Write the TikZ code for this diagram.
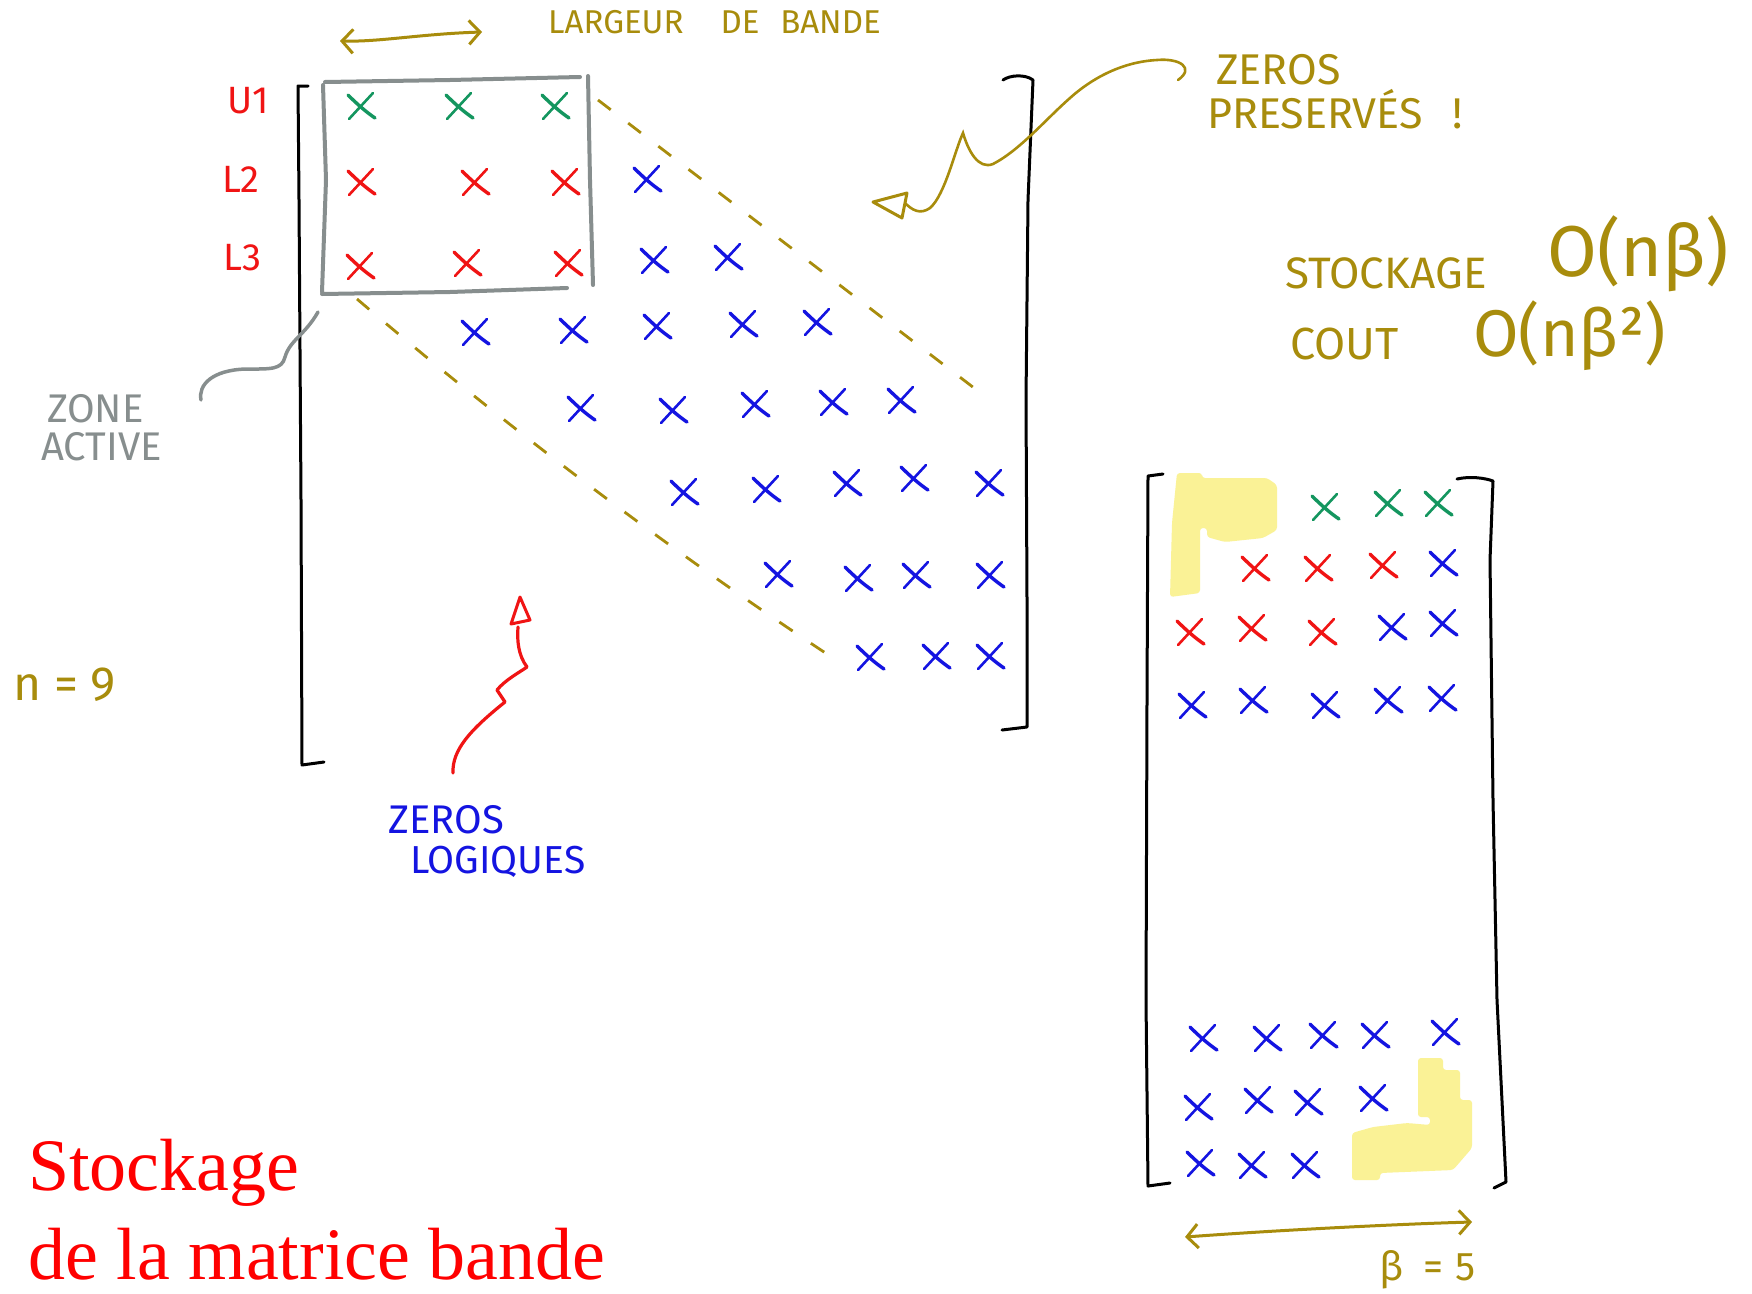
\documentclass[tikz,border=0pt]{standalone}
\usepackage{fontspec}
\setmainfont{Liberation Serif}
\newfontfamily\hand{Fira Sans}
\usetikzlibrary{arrows.meta}

\definecolor{ink}{RGB}{168,140,12}
\definecolor{xred}{RGB}{240,20,20}
\definecolor{xblue}{RGB}{20,20,225}
\definecolor{xgreen}{RGB}{20,150,95}
\definecolor{zgray}{RGB}{135,142,142}
\definecolor{hilite}{RGB}{250,242,150}

\begin{document}
\begin{tikzpicture}[x=1pt,y=-1pt,
  hw/.style={font={\hand\fontsize{#1}{#1}\selectfont}, inner sep=0pt, anchor=base west},
  brk/.style={draw=black, line width=3pt, line cap=round, line join=round},
  band/.style={draw=ink, line width=2.8pt, dash pattern=on 16pt off 22pt},
  dblarrow/.style={draw=ink, line width=3pt, line cap=round,
    {Straight Barb[length=11pt,width=24pt,line width=3pt]}-{Straight Barb[length=11pt,width=24pt,line width=3pt]}},
  xmark/.pic={
    \draw[line width=3.4pt,line cap=round] (-13,-11) .. controls (-5,-3) and (5,6) .. (14,12);
    \draw[line width=2.6pt,line cap=round] (-12,13) -- (12,-13);}
]
\fill[white] (0,0) rectangle (1752,1293);
\useasboundingbox (0,0) rectangle (1752,1293);

% ---------------- full band matrix (left) ----------------
\draw[brk] (308,86) -- (298,86) -- (299,200) -- (301,500) -- (302,765) -- (324,762);
\draw[brk] (1003,80) .. controls (1010,75) and (1025,74) .. (1033,80)
  -- (1028,200) -- (1026,400) -- (1027,600) -- (1027,727) -- (1002,730);

% active zone
\draw[zgray, line width=4pt, line cap=round]
  (325,82) -- (450,80) -- (580,77)
  (588,76) -- (590,180) -- (593,285)
  (567,288) -- (450,292) -- (322,294)
  (322,292) -- (326,180) -- (323,85);

% band limits
\draw[band] (598,100) -- (978,391);
\draw[band] (357,299) .. controls (513,432) and (670,550) .. (827,654);

% entries
\foreach \p in {(361,106),(459,106),(555,106)} \pic[xgreen] at \p {xmark};
\foreach \p in {(361,182),(475,182),(565,182),(360,266),(467,263),(568,263)} \pic[xred] at \p {xmark};
\foreach \p in {(647,179),(654,260),(728,257),(475,332),(573,330),(657,326),(743,324),(817,322),
  (581,408),(673,410),(755,404),(833,402),(901,400),(684,492),(766,489),(847,483),(914,478),(989,483),
  (778,574),(858,578),(916,575),(990,575),(870,657),(936,656),(990,656)} \pic[xblue] at \p {xmark};

% row labels
\node[hw=38, text=xred] (u1) at (227,113) {U1};
\node[hw=38, text=xred] (l2) at (222,192) {L2};
\node[hw=38, text=xred] (l3) at (223,270) {L3};

% bandwidth label
\coordinate (bwL) at (340,41);
\coordinate (bwR) at (482,32);
\draw[dblarrow] (bwL) .. controls (380,42) and (420,34) .. (bwR);
\node[hw=33, text=ink] (bw) at (548,33) {LARGEUR\hspace{37pt}DE\hspace{21pt}BANDE};

% preserved zeros
\node[hw=43, text=ink] (zp1) at (1216,84) {ZEROS};
\node[hw=43, text=ink] (zp2) at (1207,128) {PRESERVÉS\hspace{30pt}!};
\coordinate (zpS) at (1178,80);
\coordinate (zpE) at (905,203);
\draw[ink, line width=2.6pt, line cap=round]
  (zpS) .. controls (1195,68) and (1180,58) .. (1157,60)
  .. controls (1120,62) and (1090,80) .. (1070,98)
  .. controls (1045,120) and (1020,150) .. (993,164)
  .. controls (978,170) and (968,150) .. (963,133)
  .. controls (955,150) and (945,195) .. (930,208)
  .. controls (920,215) and (912,210) .. (zpE);
\draw[ink, line width=3pt, line join=round] (873,202) -- (907,193) -- (902,218) -- cycle;

% active zone label
\node[hw=40, text=zgray] (za1) at (47,422) {ZONE};
\node[hw=40, text=zgray] (za2) at (41,460) {ACTIVE};
\coordinate (zaS) at (201,400);
\coordinate (zaE) at (318,312);
\draw[zgray, line width=3.5pt, line cap=round]
  (zaS) .. controls (198,385) and (212,370) .. (246,369)
  .. controls (270,369) and (282,370) .. (285,357)
  .. controls (290,340) and (305,335) .. (zaE);

% logical zeros
\node[hw=40, text=xblue] (zl1) at (388,833) {ZEROS};
\node[hw=39, text=xblue] (zl2) at (410,873) {LOGIQUES};
\coordinate (zlS) at (453,773);
\coordinate (zlE) at (518,627);
\draw[xred, line width=3.2pt, line cap=round, line join=round]
  (zlS) .. controls (452,750) and (470,730) .. (505,702) -- (497,690)
  .. controls (505,680) and (520,672) .. (527,667)
  .. controls (518,655) and (517,640) .. (zlE);
\draw[xred, line width=3pt, line join=round] (511,624) -- (520,597) -- (530,620) -- cycle;

\node[hw=48, text=ink] (nn) at (13,700) {n = 9};

% complexity
\node[hw=44, text=ink] (st) at (1285,288) {STOCKAGE};
\node[hw=72, text=ink] (st2) at (1547,276) {O(nβ)};
\node[hw=45, text=ink] (co) at (1290,359) {COUT};
\node[hw=66, text=ink] (co2) at (1473,356) {O(nβ²)};

% ---------------- band storage (right) ----------------
\fill[hilite, rounded corners=3pt] (1177,473) -- (1202,473) -- (1202,478) -- (1267,478) -- (1277,485)
  -- (1277,530) -- (1263,538) -- (1225,542) -- (1207,537) -- (1207,528) -- (1200,528)
  -- (1200,593) -- (1170,597) -- (1172,523) -- cycle;
\fill[hilite, rounded corners=3pt] (1418,1058) -- (1443,1058) -- (1443,1070) -- (1460,1070) -- (1460,1100)
  -- (1472,1100) -- (1472,1148) -- (1453,1170) -- (1380,1173) -- (1380,1180) -- (1352,1180)
  -- (1352,1133) -- (1373,1127) -- (1407,1123) -- (1430,1125) -- (1430,1117) -- (1418,1117) -- cycle;

\draw[brk] (1163,474) -- (1148,476) -- (1147,700) -- (1146,1000) -- (1148,1186) -- (1170,1183);
\draw[brk] (1457,479) .. controls (1470,476) and (1485,478) .. (1493,481)
  -- (1490,560) -- (1493,800) -- (1497,1000) -- (1506,1182) -- (1494,1188);

\foreach \p in {(1325,507),(1388,503),(1438,503)} \pic[xgreen] at \p {xmark};
\foreach \p in {(1255,568),(1318,568),(1383,565),(1190,632),(1252,628),(1322,632)} \pic[xred] at \p {xmark};
\foreach \p in {(1443,563),(1392,627),(1443,623),(1192,705),(1253,700),(1325,705),(1388,700),(1442,698),
  (1203,1038),(1267,1038),(1323,1035),(1375,1035),(1445,1032),
  (1198,1107),(1258,1100),(1308,1102),(1373,1098),
  (1200,1163),(1252,1165),(1305,1165)} \pic[xblue] at \p {xmark};

\coordinate (bbL) at (1185,1237);
\coordinate (bbR) at (1472,1222);
\draw[dblarrow] (bbL) .. controls (1280,1230) and (1400,1224) .. (bbR);
\node[hw=40, text=ink] (beta) at (1379,1280) {β\hspace{20pt}=\hspace{12pt}5};

% title
\node[font=\fontsize{74}{89}\selectfont, text=red, inner sep=0pt, anchor=base west] (t1) at (28,1190) {Stockage};
\node[font=\fontsize{74}{89}\selectfont, text=red, inner sep=0pt, anchor=base west] (t2) at (28,1279) {de la matrice bande};
\end{tikzpicture}
\end{document}
